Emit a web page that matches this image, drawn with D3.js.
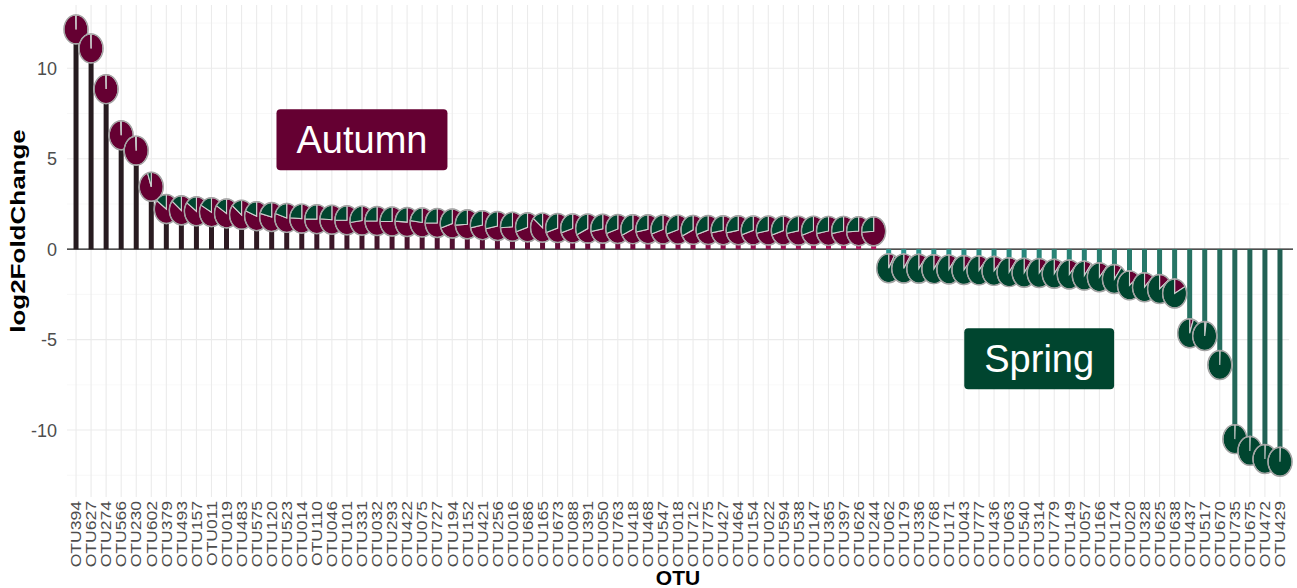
<!DOCTYPE html>
<html>
<head>
<meta charset="utf-8">
<script src="https://cdn.jsdelivr.net/npm/d3@7"></script>
<style>
  html, body { margin: 0; padding: 0; background: #fff; }
  svg { display: block; font-family: "Liberation Sans", Arial, Helvetica, sans-serif; }
</style>
</head>
<body>
<svg id="chart" width="1297" height="588"></svg>
<script>
// Differentially abundant OTUs between seasons (DESeq2 log2 fold change)
const otus = [
  "OTU394","OTU627","OTU274","OTU566","OTU230","OTU602","OTU379","OTU493","OTU157","OTU011",
  "OTU019","OTU483","OTU575","OTU120","OTU523","OTU014","OTU110","OTU046","OTU101","OTU331",
  "OTU032","OTU293","OTU422","OTU075","OTU727","OTU194","OTU152","OTU421","OTU256","OTU016",
  "OTU686","OTU165","OTU673","OTU088","OTU391","OTU050","OTU763","OTU418","OTU468","OTU547",
  "OTU018","OTU712","OTU775","OTU427","OTU464","OTU154","OTU022","OTU594","OTU538","OTU147",
  "OTU365","OTU397","OTU626","OTU244",
  "OTU062","OTU179","OTU336","OTU768","OTU171","OTU043","OTU777","OTU436","OTU063","OTU540",
  "OTU314","OTU779","OTU149","OTU057","OTU166","OTU174","OTU020","OTU328","OTU625","OTU638",
  "OTU437","OTU517","OTU670","OTU735","OTU675","OTU472","OTU429"
];

const log2FoldChange = [
  12.15, 11.1, 8.85, 6.3, 5.45, 3.45, 2.22, 2.15, 2.1, 2.05,
  1.98, 1.9, 1.83, 1.78, 1.73, 1.69, 1.66, 1.63, 1.6, 1.58,
  1.56, 1.53, 1.5, 1.48, 1.45, 1.42, 1.38, 1.33, 1.28, 1.24,
  1.21, 1.19, 1.17, 1.15, 1.14, 1.13, 1.12, 1.11, 1.1, 1.09,
  1.08, 1.07, 1.06, 1.05, 1.05, 1.04, 1.03, 1.03, 1.02, 1.02,
  1.01, 1.01, 1.0, 0.99,
  -1.05, -1.07, -1.08, -1.1, -1.12, -1.15, -1.17, -1.2, -1.27, -1.3,
  -1.32, -1.36, -1.4, -1.46, -1.55, -1.65, -2.0, -2.1, -2.2, -2.45,
  -4.65, -4.8, -6.4, -10.5, -11.15, -11.6, -11.75
];

// share of each OTU's reads found in autumn samples (rest: spring)
const autumnShare = [
  0.995, 0.995, 0.995, 0.993, 0.99, 0.95, 0.85, 0.86, 0.85, 0.83,
  0.84, 0.86, 0.81, 0.79, 0.8, 0.76, 0.75, 0.76, 0.75, 0.73,
  0.75, 0.75, 0.76, 0.77, 0.75, 0.7, 0.74, 0.72, 0.72, 0.74,
  0.7, 0.86, 0.7, 0.7, 0.68, 0.72, 0.7, 0.68, 0.72, 0.7,
  0.7, 0.68, 0.7, 0.72, 0.72, 0.7, 0.72, 0.7, 0.72, 0.7,
  0.72, 0.72, 0.74, 0.74,
  0.08, 0.09, 0.1, 0.1, 0.1, 0.11, 0.11, 0.12, 0.1, 0.1,
  0.11, 0.1, 0.11, 0.1, 0.11, 0.1, 0.14, 0.12, 0.14, 0.17,
  0.05, 0.02, 0.005, 0.005, 0.005, 0.005, 0.005
];

const yTicks = [-10, -5, 0, 5, 10];
const yMinorTicks = [-12.5, -7.5, -2.5, 2.5, 7.5, 12.5];

const seasonNames = ["Autumn", "Spring"];
const seasonColors = ["#650032", "#00452f"];
const seasonLabelOtu = ["OTU331", "OTU314"];
const seasonLabelValue = [6.05, -6.05];

// ---- layout ----
const W = 1297, H = 588;
const panel = { left: 67, right: 1289, top: 5, bottom: 497 };

const svg = d3.select("#chart");

const x = d3.scalePoint()
  .domain(otus)
  .range([panel.left, panel.right])
  .padding(0.6);

const y = d3.scaleLinear()
  .domain([-13.7, 13.5])
  .range([panel.bottom, panel.top]);

const rows = otus.map((id, i) => ({
  id, i,
  lfc: log2FoldChange[i],
  share: autumnShare[i],
  season: log2FoldChange[i] >= 0 ? 0 : 1
}));

// ---- grid ----
const grid = svg.append("g");
grid.selectAll("line.minor").data(yMinorTicks).join("line")
  .attr("x1", panel.left).attr("x2", panel.right)
  .attr("y1", d => y(d)).attr("y2", d => y(d))
  .attr("stroke", "#f3f3f3").attr("stroke-width", 0.6);
grid.selectAll("line.major").data(yTicks).join("line")
  .attr("x1", panel.left).attr("x2", panel.right)
  .attr("y1", d => y(d)).attr("y2", d => y(d))
  .attr("stroke", "#ebebeb").attr("stroke-width", 1.1);
grid.selectAll("line.vx").data(otus).join("line")
  .attr("x1", d => x(d)).attr("x2", d => x(d))
  .attr("y1", panel.top).attr("y2", panel.bottom)
  .attr("stroke", "#ebebeb").attr("stroke-width", 1.1);

// ---- zero line ----
svg.append("line")
  .attr("x1", panel.left).attr("x2", panel.right + 4)
  .attr("y1", y(0)).attr("y2", y(0))
  .attr("stroke", "#1a1a1a").attr("stroke-width", 1.3);

// ---- stems, shaded along each season's ranking ----
const autumnIdx = rows.filter(r => r.season === 0).map(r => r.i);
const springIdx = rows.filter(r => r.season === 1).map(r => r.i);
const nA = autumnIdx.length, nS = springIdx.length;
const autumnStem = d3.scaleLinear()
  .domain([0, 12, 35, nA - 1])
  .range(["#251b1f", "#2e1a22", "#6c0b3c", "#b3175f"])
  .interpolate(d3.interpolateRgb);
const springStem = d3.scaleLinear()
  .domain([0, 19, nS - 1])
  .range(["#2b9890", "#277565", "#215f52"])
  .interpolate(d3.interpolateRgb);

svg.append("g").selectAll("line").data(rows).join("line")
  .attr("x1", d => x(d.id)).attr("x2", d => x(d.id))
  .attr("y1", y(0)).attr("y2", d => y(d.lfc))
  .attr("stroke", d => d.season === 0
    ? autumnStem(autumnIdx.indexOf(d.i))
    : springStem(springIdx.indexOf(d.i)))
  .attr("stroke-width", 5);

// ---- pie markers ----
const rx = 12, ry = 14.5;
const pie = d3.pie().sort(null).value(d => d);
const arc = d3.arc().innerRadius(0).outerRadius(1);

const pies = svg.append("g").selectAll("g").data(rows).join("g")
  .attr("transform", d => `translate(${x(d.id)},${y(d.lfc)}) scale(${rx},${ry})`);

pies.selectAll("path")
  .data(d => pie([d.share, 1 - d.share]).map((a, k) => ({ a, k })))
  .join("path")
  .attr("d", d => arc(d.a))
  .attr("fill", d => seasonColors[d.k])
  .attr("stroke", "#cfcfcf")
  .attr("stroke-width", 1.1)
  .attr("vector-effect", "non-scaling-stroke");

pies.append("ellipse")
  .attr("rx", 1).attr("ry", 1)
  .attr("fill", "none")
  .attr("stroke", "#a3a3a3")
  .attr("stroke-width", 1.4)
  .attr("vector-effect", "non-scaling-stroke");

// ---- season labels ----
const labels = svg.append("g").selectAll("g").data(seasonNames).join("g")
  .attr("transform", (d, i) => `translate(${x(seasonLabelOtu[i])},${y(seasonLabelValue[i])})`);
labels.append("rect").attr("class", "box");
labels.append("text")
  .text(d => d)
  .attr("text-anchor", "middle")
  .attr("dy", "0.36em")
  .attr("fill", "#fff")
  .attr("font-size", 38);
labels.each(function (d, i) {
  const g = d3.select(this);
  const tw = g.select("text").node().getComputedTextLength();
  const bw = tw + 40, bh = 61;
  g.select("rect")
    .attr("x", -bw / 2).attr("y", -bh / 2)
    .attr("width", bw).attr("height", bh)
    .attr("rx", 4)
    .attr("fill", seasonColors[i]);
});

// ---- y axis ----
svg.append("g").selectAll("text").data(yTicks).join("text")
  .attr("x", 57).attr("y", d => y(d))
  .attr("dy", "0.36em")
  .attr("text-anchor", "end")
  .attr("fill", "#4d4d4d")
  .attr("font-size", 18)
  .text(d => d);

const yTitle = svg.append("text")
  .attr("transform", `translate(25,231) rotate(-90)`)
  .attr("text-anchor", "middle")
  .attr("font-weight", "bold")
  .attr("font-size", 20)
  .attr("fill", "#000")
  .text("log2FoldChange");
yTitle.attr("textLength", yTitle.node().getComputedTextLength() * 1.3)
  .attr("lengthAdjust", "spacingAndGlyphs");

// ---- x axis ----
const xLabels = svg.append("g").selectAll("text").data(otus).join("text")
  .attr("transform", d => `translate(${x(d)},501) rotate(-90)`)
  .attr("dy", "0.35em")
  .attr("text-anchor", "end")
  .attr("fill", "#4d4d4d")
  .attr("font-size", 15)
  .text(d => d);
xLabels.each(function () {
  const t = d3.select(this);
  t.attr("textLength", this.getComputedTextLength() * 1.17)
   .attr("lengthAdjust", "spacingAndGlyphs");
});

svg.append("text")
  .attr("x", (panel.left + panel.right) / 2)
  .attr("y", 585)
  .attr("text-anchor", "middle")
  .attr("font-weight", "bold")
  .attr("font-size", 21)
  .attr("fill", "#000")
  .text("OTU");
</script>
</body>
</html>
